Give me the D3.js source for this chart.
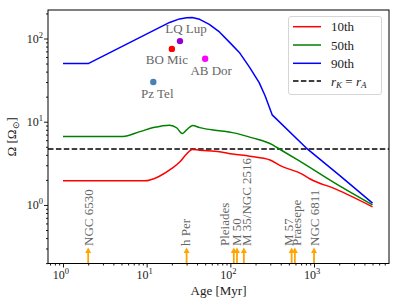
<!DOCTYPE html>
<html><head><meta charset="utf-8">
<script src="https://cdn.jsdelivr.net/npm/d3@7"></script>
<style>
body{margin:0;background:#fff}
svg{display:block}
</style>
</head><body>
<svg id="c" width="399" height="306" font-family="'Liberation Serif', serif"></svg>
<script>
// ---------- data ----------
const seriesNames = ["10th", "50th", "90th"];
const age10 = [1, 9.5, 14, 20, 25, 30, 35, 43, 74, 106, 170, 298, 400, 720, 900, 1820, 5000];
const omega10 = [1.95, 1.95, 2.2, 2.75, 3.3, 4.1, 4.65, 4.55, 4.37, 4.1, 3.85, 3.47, 2.95, 2.35, 2.05, 1.55, 0.95];
const age50 = [1, 5.2, 8.3, 12, 18.8, 23, 26.6, 30, 35.5, 43, 74, 106, 183, 316, 360, 660, 1820, 5000];
const omega50 = [6.65, 6.65, 7.6, 8.5, 9.1, 8.4, 7.2, 8.0, 9.0, 8.5, 7.8, 7.4, 6.4, 5.3, 4.9, 3.4, 1.8, 1.0];
const age90 = [1, 2, 18.8, 24.7, 30, 35, 43, 56, 74, 100, 128, 170, 221, 260, 316, 803, 1985, 5000];
const omega90 = [50, 50, 156, 172, 177, 179, 170, 148, 120, 88, 68, 45, 29.5, 20.5, 12.1, 4.86, 2.3, 1.05];
const corotationOmega = 4.69;
const starNames = ["Pz Tel", "BO Mic", "LQ Lup", "AB Dor"];
const starAges = [12, 20, 25, 50];
const starOmega = [30, 75, 93, 57];
const clusterNames = ["NGC 6530", "h Per", "Pleiades", "M 50", "M 35/NGC 2516", "M 57", "Praesepe", "NGC 6811"];
const clusterAges = [2, 30, 110, 120, 145, 540, 590, 1000];
const xMajorTicks = [1, 10, 100, 1000];
const yMajorTicks = [1, 10, 100];

// ---------- layout / style ----------
const L = 48, R = 389, T = 10, B = 263.5;
const seriesColors = ["#ff0000", "#008000", "#0000ff"];
const seriesCurves = [d3.curveMonotoneX, d3.curveMonotoneX, d3.curveLinear];
const starColors = ["#4682b4", "#ff0000", "#9400d3", "#ff00ff"];
const starLabelOffsets = [[4, 15.5], [-5, 15], [6, -8], [6, 16]];
const clusterLabelNudge = [5.3, 3.7, -4.5, 3.6, 7, 1.3, 6.5, 5.3];
const textGrey = "#666";
const FONT = "'Liberation Serif', serif";

const svg = d3.select("#c");
const x = d3.scaleLog().domain([0.662, 7870]).range([L, R]);
const y = d3.scaleLog().domain([0.198, 220]).range([B, T]);

svg.append("defs").append("clipPath").attr("id", "clip")
  .append("rect").attr("x", L).attr("y", T).attr("width", R - L).attr("height", B - T);

function minors(lo, hi) {
  const out = [];
  for (let e = -2; e <= 5; e++) for (let m = 2; m <= 9; m++) {
    const v = m * Math.pow(10, e);
    if (v >= lo && v <= hi) out.push(v);
  }
  return out;
}
const xd = x.domain(), yd = y.domain();

const gx = svg.append("g").attr("transform", `translate(0,${B})`);
gx.call(d3.axisBottom(x).tickValues(xMajorTicks).tickSize(4).tickSizeOuter(0).tickFormat(""));
gx.append("g").call(d3.axisBottom(x).tickValues(minors(xd[0], xd[1])).tickSize(2).tickSizeOuter(0).tickFormat(""));
gx.selectAll(".domain").remove();
gx.selectAll("line").attr("stroke", "#000").attr("stroke-width", 0.9);

const gy = svg.append("g").attr("transform", `translate(${L},0)`);
gy.call(d3.axisLeft(y).tickValues(yMajorTicks).tickSize(4).tickSizeOuter(0).tickFormat(""));
gy.append("g").call(d3.axisLeft(y).tickValues(minors(yd[0], yd[1])).tickSize(2).tickSizeOuter(0).tickFormat(""));
gy.selectAll(".domain").remove();
gy.selectAll("line").attr("stroke", "#000").attr("stroke-width", 0.9);

function txt(sel) { return sel.append("text").attr("font-family", FONT); }

xMajorTicks.forEach(v => {
  const t = txt(svg).attr("x", x(v) - 2).attr("y", 278.5)
    .attr("text-anchor", "middle").attr("font-size", 12).attr("fill", "#222");
  t.append("tspan").text("10");
  t.append("tspan").attr("dy", -5).attr("font-size", 8.5).text(Math.round(Math.log10(v)));
});
yMajorTicks.forEach(v => {
  const t = txt(svg).attr("x", 43).attr("y", y(v) + 4.5)
    .attr("text-anchor", "end").attr("font-size", 12).attr("fill", "#222");
  t.append("tspan").text("10");
  t.append("tspan").attr("dy", -5).attr("font-size", 8.5).text(Math.round(Math.log10(v)));
});

txt(svg).attr("x", (L + R) / 2).attr("y", 295).attr("text-anchor", "middle")
  .attr("font-size", 13).attr("fill", "#222").text("Age [Myr]");
const yl = txt(svg).attr("transform", `translate(16,${(T + B) / 2}) rotate(-90)`)
  .attr("text-anchor", "middle").attr("font-size", 13).attr("fill", "#222");
yl.append("tspan").text("Ω [Ω");
yl.append("tspan").attr("font-size", 9).attr("dy", 3).text("⊙");
yl.append("tspan").attr("dy", -3).text("]");

const plot = svg.append("g").attr("clip-path", "url(#clip)");

plot.append("line").attr("x1", L).attr("x2", R)
  .attr("y1", y(corotationOmega)).attr("y2", y(corotationOmega))
  .attr("stroke", "#000").attr("stroke-width", 1.5).attr("stroke-dasharray", "5.5,2.4");

const seriesData = [d3.zip(age10, omega10), d3.zip(age50, omega50), d3.zip(age90, omega90)];
seriesData.forEach((d, i) => {
  const line = d3.line().x(p => x(p[0])).y(p => y(p[1])).curve(seriesCurves[i]);
  plot.append("path").datum(d).attr("d", line)
    .attr("fill", "none").attr("stroke", seriesColors[i]).attr("stroke-width", 1.5)
    .attr("stroke-linejoin", "round");
});

starNames.forEach((n, i) => {
  const cx = x(starAges[i]), cy = y(starOmega[i]);
  plot.append("circle").attr("cx", cx).attr("cy", cy).attr("r", 3.2).attr("fill", starColors[i]);
  txt(svg).attr("x", cx + starLabelOffsets[i][0]).attr("y", cy + starLabelOffsets[i][1])
    .attr("text-anchor", "middle").attr("font-size", 13).attr("fill", textGrey).text(n);
});

clusterNames.forEach((n, i) => {
  const ax = x(clusterAges[i]);
  svg.append("line").attr("x1", ax).attr("x2", ax).attr("y1", B).attr("y2", 252)
    .attr("stroke", "#ffa500").attr("stroke-width", 1.8);
  svg.append("path").attr("d", `M${ax - 3},${253} L${ax + 3},${253} L${ax},${247.5} Z`)
    .attr("fill", "#ffa500");
  txt(svg).attr("transform", `translate(${ax + clusterLabelNudge[i]},246) rotate(-90)`)
    .attr("font-size", 13).attr("fill", textGrey).text(n);
});

svg.append("rect").attr("x", L).attr("y", T).attr("width", R - L).attr("height", B - T)
  .attr("fill", "none").attr("stroke", "#000").attr("stroke-width", 1);

const lg = svg.append("g");
lg.append("rect").attr("x", 288.5).attr("y", 16.5).attr("width", 93).attr("height", 78)
  .attr("rx", 2.5).attr("fill", "#fff").attr("fill-opacity", 0.8).attr("stroke", "#d6d6d6").attr("stroke-width", 1);
const ly = [26.7, 45, 63.3, 81];
seriesNames.forEach((n, i) => {
  lg.append("line").attr("x1", 293).attr("x2", 321).attr("y1", ly[i]).attr("y2", ly[i])
    .attr("stroke", seriesColors[i]).attr("stroke-width", 1.5);
  txt(lg).attr("x", 331).attr("y", ly[i] + 4.5).attr("font-size", 13).attr("fill", "#222").text(n);
});
lg.append("line").attr("x1", 293).attr("x2", 321).attr("y1", ly[3]).attr("y2", ly[3])
  .attr("stroke", "#000").attr("stroke-width", 1.5).attr("stroke-dasharray", "5.5,2.4");
const rt = txt(lg).attr("x", 331).attr("y", ly[3] + 4.5).attr("font-size", 13).attr("fill", "#222");
rt.append("tspan").attr("font-style", "italic").text("r");
rt.append("tspan").attr("font-style", "italic").attr("font-size", 9).attr("dy", 2.5).text("K");
rt.append("tspan").attr("dy", -2.5).text(" = ");
rt.append("tspan").attr("font-style", "italic").text("r");
rt.append("tspan").attr("font-style", "italic").attr("font-size", 9).attr("dy", 2.5).text("A");
</script>
</body></html>
